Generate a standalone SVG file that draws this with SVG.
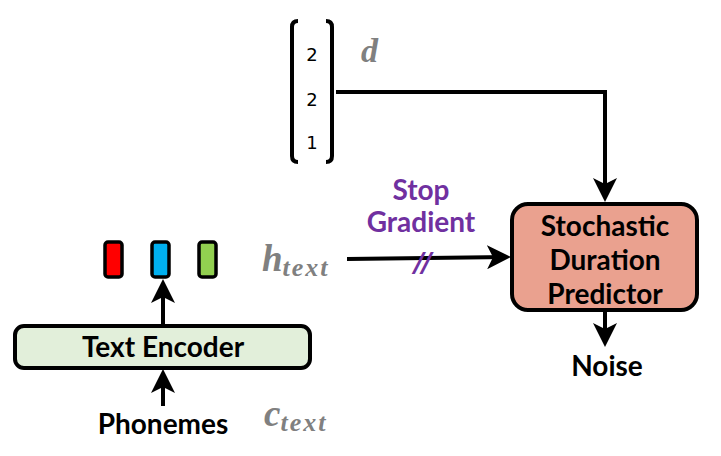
<svg xmlns="http://www.w3.org/2000/svg" width="721" height="456" viewBox="0 0 721 456">
<style>
.lbl{font-family:Lato,"Open Sans",sans-serif;font-weight:bold;fill:#000;text-anchor:middle;font-size:28px}
.math{font-family:"Liberation Serif",serif;font-weight:bold;font-style:italic;fill:#808080}
.conn{stroke:#000;stroke-width:4;fill:none}
.num{font-family:"DejaVu Sans",sans-serif;font-size:18px;fill:#000;text-anchor:middle}
.sg{font-family:Lato,"Open Sans",sans-serif;font-weight:bold;fill:#7030A0;text-anchor:middle;font-size:28px}
.emb{stroke:#000;stroke-width:3.5}
</style>
<defs>
<marker id="ah" markerWidth="6" markerHeight="6" refX="5" refY="3" orient="auto" markerUnits="strokeWidth">
<path d="M0,0 L6,3 L0,6 L1.5,3 Z" fill="#000"/>
</marker>
</defs>
<rect width="721" height="456" fill="#fff"/>
<g id="duration-vector">
<path d="M298,21 Q292,21 292,27 L292,156 Q292,162 298,162" class="conn"/>
<path d="M326,21 Q332,21 332,27 L332,156 Q332,162 326,162" class="conn"/>
<text x="312" y="61" class="num">2</text>
<text x="312" y="106" class="num">2</text>
<text x="312" y="149" class="num">1</text>
<text x="361" y="62" class="math" font-size="34">d</text>
</g>
<g id="connectors">
<path d="M336,92 L605,92 L605,198" class="conn" marker-end="url(#ah)"/>
<path d="M347,259 L507,257" class="conn" marker-end="url(#ah)"/>
<path d="M605,311 L605,343" class="conn" marker-end="url(#ah)"/>
<path d="M163,324 L163,283" class="conn" marker-end="url(#ah)"/>
<path d="M163,406 L163,373" class="conn" marker-end="url(#ah)"/>
</g>
<g id="stop-gradient">
<text x="421" y="200" class="sg">Stop</text>
<text x="421" y="232" class="sg">Gradient</text>
<text x="422" y="272" font-family="'DejaVu Sans',sans-serif" font-weight="bold" font-style="italic" font-size="27" fill="#7030A0" text-anchor="middle" letter-spacing="-2">//</text>
</g>
<g id="sdp">
<rect x="512" y="204" width="185" height="106" rx="16" fill="#EAA18F" stroke="#000" stroke-width="4"/>
<text x="605" y="236" class="lbl">Stochastic</text>
<text x="605" y="270" class="lbl">Duration</text>
<text x="605" y="304" class="lbl">Predictor</text>
</g>
<g id="noise">
<text x="607" y="376" class="lbl">Noise</text>
</g>
<g id="embeddings">
<rect x="105" y="242" width="17" height="35" rx="3" fill="#FF0000" class="emb"/>
<rect x="152" y="242" width="17" height="35" rx="3" fill="#00B0F0" class="emb"/>
<rect x="199" y="242" width="17" height="35" rx="3" fill="#92D050" class="emb"/>
</g>
<g id="h-text">
<text x="262" y="271" class="math" font-size="37">h<tspan font-size="26" dy="5" letter-spacing="2">text</tspan></text>
</g>
<g id="text-encoder">
<rect x="15" y="326" width="295" height="42" rx="9" fill="#E2EFDA" stroke="#000" stroke-width="4"/>
<text x="163" y="357" class="lbl">Text Encoder</text>
</g>
<g id="phonemes">
<text x="163" y="434" class="lbl">Phonemes</text>
<text x="264" y="426" class="math" font-size="37">c<tspan font-size="26" dy="5" letter-spacing="2">text</tspan></text>
</g>
</svg>
